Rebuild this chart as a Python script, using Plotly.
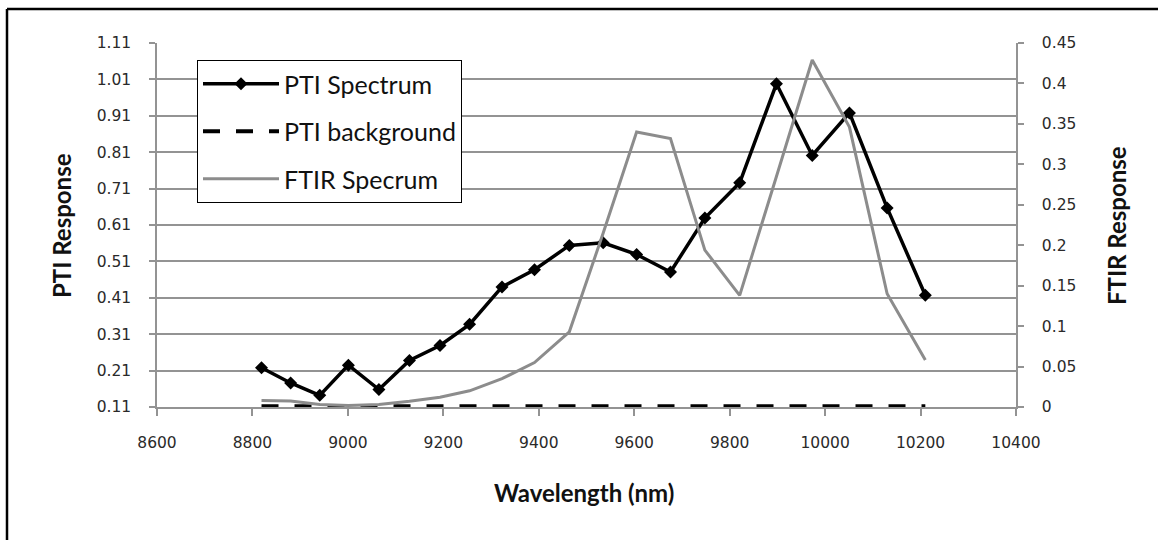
import plotly.graph_objects as go

# ---- data ----
wavelength_nm = [8819, 8880, 8941, 9001, 9065, 9129, 9193, 9255, 9323, 9391, 9464,
                 9535, 9605, 9676, 9748, 9821, 9898, 9973, 10051, 10130, 10210]
pti_spectrum = [0.218, 0.176, 0.142, 0.225, 0.158, 0.238, 0.279, 0.337, 0.440, 0.487, 0.554,
                0.561, 0.529, 0.481, 0.629, 0.726, 0.998, 0.801, 0.918, 0.657, 0.417]
pti_background = [0.112, 0.112, 0.112, 0.112, 0.112, 0.112, 0.112, 0.112, 0.112, 0.112, 0.112,
                  0.112, 0.112, 0.112, 0.112, 0.112, 0.112, 0.112, 0.112, 0.112, 0.112]
ftir_spectrum = [0.008, 0.0075, 0.003, 0.002, 0.003, 0.007, 0.012, 0.020, 0.035, 0.055, 0.093,
                 0.215, 0.340, 0.332, 0.194, 0.138, 0.285, 0.429, 0.346, 0.140, 0.058]

x_ticks = [8600, 8800, 9000, 9200, 9400, 9600, 9800, 10000, 10200, 10400]
x_labels = ["8600", "8800", "9000", "9200", "9400", "9600", "9800", "10000", "10200", "10400"]
y_left_ticks = [0.11, 0.21, 0.31, 0.41, 0.51, 0.61, 0.71, 0.81, 0.91, 1.01, 1.11]
y_left_labels = ["0.11", "0.21", "0.31", "0.41", "0.51", "0.61", "0.71", "0.81", "0.91", "1.01", "1.11"]
y_right_ticks = [0, 0.05, 0.1, 0.15, 0.2, 0.25, 0.3, 0.35, 0.4, 0.45]
y_right_labels = ["0", "0.05", "0.1", "0.15", "0.2", "0.25", "0.3", "0.35", "0.4", "0.45"]

series_names = ["PTI Spectrum", "PTI background", "FTIR Specrum"]

# ---- styling ----
W, H = 1158, 540
ML, MR, MT, MB = 157, 142, 43, 133
GRID = "#939393"
TICK_FONT = dict(family="DejaVu Sans", size=15.5, color="#2a2a2a")
TITLE_FONT = dict(family="Lato", size=24, color="#111111")

fig = go.Figure()

fig.add_trace(go.Scatter(
    x=wavelength_nm, y=pti_spectrum, name=series_names[0], legendgroup="a",
    mode="lines+markers",
    line=dict(color="black", width=3.5),
    marker=dict(symbol="diamond", size=10, color="black"),
    yaxis="y"))
fig.add_trace(go.Scatter(
    x=wavelength_nm, y=pti_background, name=series_names[1], legendgroup="b",
    mode="lines",
    line=dict(color="black", width=4, dash="17px,16px"),
    yaxis="y"))
fig.add_trace(go.Scatter(
    x=wavelength_nm, y=ftir_spectrum, name=series_names[2], legendgroup="c",
    mode="lines",
    line=dict(color="#8c8c8c", width=3),
    yaxis="y2"))

pw = W - ML - MR
ph = H - MT - MB

def px_x(p):
    return (p - ML) / pw

def px_y(p):
    return (H - MB - p) / ph

fig.update_layout(
    width=W, height=H,
    margin=dict(l=ML, r=MR, t=MT, b=MB, pad=0),
    paper_bgcolor="white", plot_bgcolor="white",
    showlegend=True,
    legend=dict(
        x=px_x(197), y=px_y(60), xanchor="left", yanchor="top",
        bgcolor="white", bordercolor="black", borderwidth=1,
        font=dict(family="Lato", size=25, color="#111111"),
        itemwidth=76, tracegroupgap=12, traceorder="grouped",
    ),
    xaxis=dict(
        range=[8600, 10400], tickvals=x_ticks, ticktext=x_labels,
        ticks="outside", ticklen=7, tickcolor=GRID, tickwidth=1.5,
        showline=True, linecolor=GRID, linewidth=1.5,
        showgrid=False, zeroline=False, layer="below traces",
        tickfont=TICK_FONT, ticklabelstandoff=14,
    ),
    yaxis=dict(
        range=[0.11, 1.11], tickvals=y_left_ticks, ticktext=y_left_labels,
        ticks="outside", ticklen=6, tickcolor=GRID, tickwidth=1.5,
        showline=True, linecolor=GRID, linewidth=1.5,
        showgrid=True, gridcolor=GRID, gridwidth=1.5, zeroline=False,
        layer="below traces", tickfont=TICK_FONT, ticklabelstandoff=15,
    ),
    yaxis2=dict(
        range=[0, 0.45], tickvals=y_right_ticks, ticktext=y_right_labels,
        overlaying="y", side="right", anchor="x",
        ticks="outside", ticklen=6, tickcolor=GRID, tickwidth=1.5,
        showline=True, linecolor=GRID, linewidth=1.5,
        showgrid=False, zeroline=False, layer="below traces",
        tickfont=TICK_FONT, ticklabelstandoff=15,
    ),
    annotations=[
        dict(text="<b>Wavelength (nm)</b>", x=px_x(584), y=px_y(492), xref="paper", yref="paper",
             showarrow=False, font=TITLE_FONT, xanchor="center", yanchor="middle"),
        dict(text="<b>PTI Response</b>", x=px_x(61), y=px_y(226), xref="paper", yref="paper",
             showarrow=False, font=TITLE_FONT, textangle=-90, xanchor="center", yanchor="middle"),
        dict(text="<b>FTIR Response</b>", x=px_x(1116), y=px_y(226), xref="paper", yref="paper",
             showarrow=False, font=TITLE_FONT, textangle=-90, xanchor="center", yanchor="middle"),
    ],
    shapes=[
        dict(type="line", xref="paper", yref="paper", x0=px_x(7), x1=px_x(1160),
             y0=px_y(9), y1=px_y(9), line=dict(color="black", width=2.5)),
        dict(type="line", xref="paper", yref="paper", x0=px_x(7), x1=px_x(7),
             y0=px_y(9), y1=px_y(545), line=dict(color="black", width=2.5)),
    ],
)

fig.write_html("out.html")
